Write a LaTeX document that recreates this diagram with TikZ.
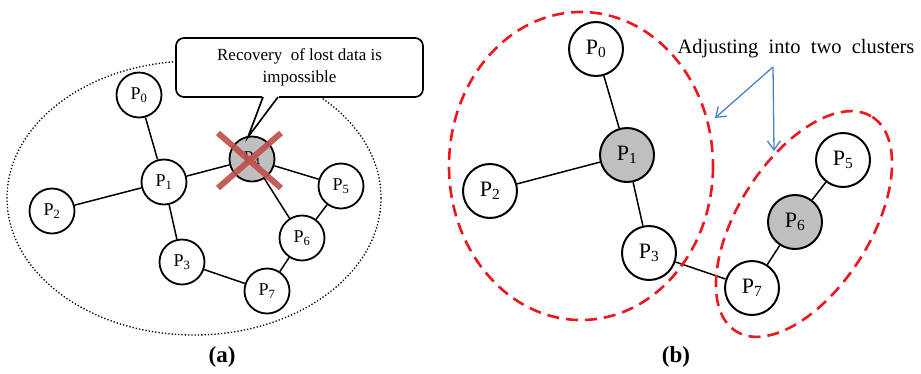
\documentclass[tikz,border=0pt]{standalone}
\usepackage{fontspec}
\setmainfont{Liberation Serif}
\usetikzlibrary{arrows.meta}
\definecolor{redx}{RGB}{192,80,77}
\definecolor{dashred}{RGB}{235,25,30}
\definecolor{bluearr}{RGB}{79,129,189}
\definecolor{nodegray}{RGB}{191,191,191}
\begin{document}
\begin{tikzpicture}[x=1pt,y=-1pt,
  nodeA/.style={circle,draw,line width=1.8pt,fill=white,minimum size=45pt,inner sep=0pt,font=\fontsize{18}{18}\selectfont},
  nodeB/.style={circle,draw,line width=2pt,fill=white,minimum size=54pt,inner sep=0pt,font=\fontsize{22}{22}\selectfont},
  grayed/.style={fill=nodegray},
  edge/.style={line width=1.5pt},
  cluster/.style={draw=dashred,line width=2.6pt,dash pattern=on 12pt off 7pt},
  bluearrow/.style={draw=bluearr,line width=1.3pt,-{Straight Barb[length=9pt,width=13pt,line width=1.3pt]}},
  caption/.style={font=\fontsize{23}{23}\selectfont\bfseries}]
\useasboundingbox (0,0) rectangle (921,373);

% ---------- panel (a) ----------
\draw[line width=1.3pt,dotted] (194,198) ellipse (187 and 137);

\node[nodeA] (a0) at (139,95) {P\textsubscript{0}};
\node[nodeA] (a1) at (164,182) {P\textsubscript{1}};
\node[nodeA] (a2) at (52,211) {P\textsubscript{2}};
\node[nodeA,grayed] (a4) at (252,159) {P\textsubscript{4}};
\node[nodeA] (a5) at (341,186) {P\textsubscript{5}};
\node[nodeA] (a6) at (302,238) {P\textsubscript{6}};
\node[nodeA] (a3) at (182,262) {P\textsubscript{3}};
\node[nodeA] (a7) at (267,291) {P\textsubscript{7}};

\draw[edge] (a0) -- (a1);
\draw[edge] (a1) -- (a2);
\draw[edge] (a1) -- (a4);
\draw[edge] (a1) -- (a3);
\draw[edge] (a3) -- (a7);
\draw[edge] (a7) -- (a6);
\draw[edge] (a6) -- (a5);
\draw[edge] (a5) -- (a4);
\draw[edge] (a4) -- (a6);

% callout
\node[draw,line width=1.7pt,fill=white,rounded corners=8pt,minimum width=247pt,minimum height=59pt,
  align=center,font=\fontsize{17}{22}\selectfont,inner sep=2pt] (callout) at (299.5,67.5)
  {Recovery\ \ of lost data is\\impossible};
\coordinate (tip) at (248,137);
\coordinate (pl) at (263,97);
\coordinate (pr) at (278,97);
\fill[white] (262,95) rectangle (279,99);
\fill[white] (pl) -- (pr) -- (tip) -- cycle;
\draw[line width=1.7pt,line join=miter] (pl) -- (tip) -- (pr);

% red cross
\draw[redx,line width=6pt,opacity=0.92] ([shift={(-34,-26)}]a4.center) -- ([shift={(29,29)}]a4.center);
\draw[redx,line width=6pt,opacity=0.92] ([shift={(29,-26)}]a4.center) -- ([shift={(-34,29)}]a4.center);

\node[caption] (capa) at (222,357) {(a)};

% ---------- panel (b) ----------
\node[nodeB] (b0) at (596,49) {P\textsubscript{0}};
\node[nodeB,grayed] (b1) at (627,155) {P\textsubscript{1}};
\node[nodeB] (b2) at (490,191) {P\textsubscript{2}};
\node[nodeB] (b3) at (649,253) {P\textsubscript{3}};
\node[nodeB] (b7) at (752,288) {P\textsubscript{7}};
\node[nodeB,grayed] (b6) at (795,222) {P\textsubscript{6}};
\node[nodeB] (b5) at (843,160) {P\textsubscript{5}};

\draw[edge] (b0) -- (b1);
\draw[edge] (b1) -- (b2);
\draw[edge] (b1) -- (b3);
\draw[edge] (b3) -- (b7);
\draw[edge] (b7) -- (b6);
\draw[edge] (b6) -- (b5);

\draw[cluster] (581,166) ellipse (132 and 154);
\draw[cluster,rotate around={57.5:(804,224)}] (804,224) ellipse (127 and 66);

\node[font=\fontsize{20.5}{20.5}\selectfont] (adj) at (796,49) {Adjusting\ \ into\ \ two\ \ clusters};
\coordinate (src) at (773,67);
\coordinate (t1) at (715,118);
\coordinate (t2) at (774,151);
\draw[bluearrow] (src) -- (t1);
\draw[bluearrow] (src) -- (t2);

\node[caption] (capb) at (676,357) {(b)};
\end{tikzpicture}
\end{document}
